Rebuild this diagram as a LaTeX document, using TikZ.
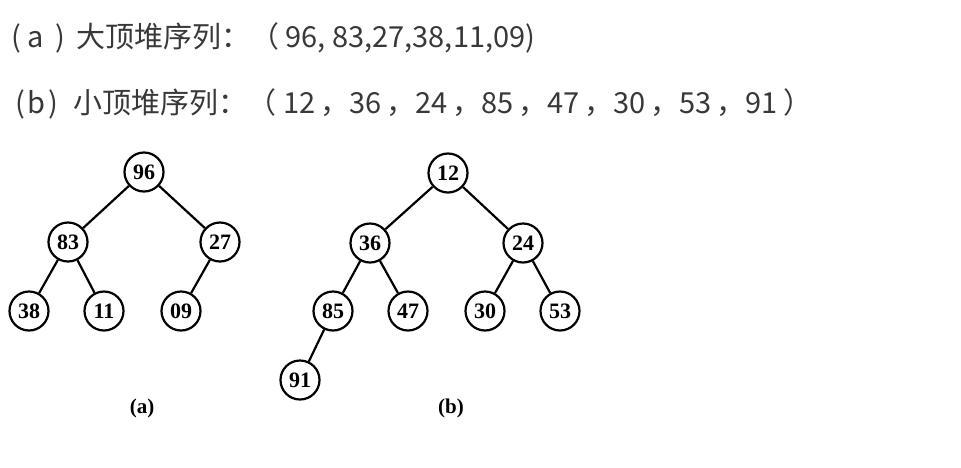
\documentclass[tikz,border=0pt]{standalone}
\usepackage{fontspec}
\newfontfamily\cjk{Noto Sans CJK SC}
\newfontfamily\scan{Liberation Serif}
\usepackage{tikz}
\usetikzlibrary{positioning}

\begin{document}
\begin{tikzpicture}[
			x=1pt, y=-1pt,
			line width=2.2pt,
			heap/.style = {circle, draw, minimum size = 39pt, inner sep=0pt, font=\scan\bfseries\fontsize{22}{24}\selectfont},
			caption/.style = {font=\scan\bfseries\fontsize{21}{23}\selectfont},
			seq/.style = {anchor=west, inner sep=0pt, text=black!78, font=\cjk\fontsize{29}{33}\selectfont},
			]
			\useasboundingbox (0,0) rectangle (961,467);
			% sequences
			\node[seq] (seqA) at (10,38) {(\hspace{7pt}a\hspace{11pt})\hspace{11pt}大顶堆序列：（ 96, 83,27,38,11,09)};
			\node[seq] (seqB) at (14,104) {(\hspace{3pt}b\hspace{3pt})\hspace{15pt}小顶堆序列：（ 12\,，36\,，24\,，85\,，47\,，30\,，53\,，91 ）};
			% big top heap
			\node[heap] (a96) at (144,172) {96};
			\node[heap] (a83) at (68,242) {83};
			\node[heap] (a27) at (220,242) {27};
			\node[heap] (a38) at (29,311) {38};
			\node[heap] (a11) at (104,311) {11};
			\node[heap] (a09) at (181,311) {09};
			\node[caption] (capA) at (142,408) {(a)};
			% small top heap
			\node[heap] (b12) at (448,173) {12};
			\node[heap] (b36) at (370,243) {36};
			\node[heap] (b24) at (523,243) {24};
			\node[heap] (b85) at (333,311) {85};
			\node[heap] (b47) at (408,311) {47};
			\node[heap] (b30) at (485,311) {30};
			\node[heap] (b53) at (560,311) {53};
			\node[heap] (b91) at (300,380) {91};
			\node[caption] (capB) at (451,408) {(b)};
			% edges
			\foreach \p/\c in {a96/a83, a96/a27, a83/a38, a83/a11, a27/a09,
				b12/b36, b12/b24, b36/b85, b36/b47, b24/b30, b24/b53, b85/b91}
				\draw (\p) -- (\c);
		\end{tikzpicture}
\end{document}
